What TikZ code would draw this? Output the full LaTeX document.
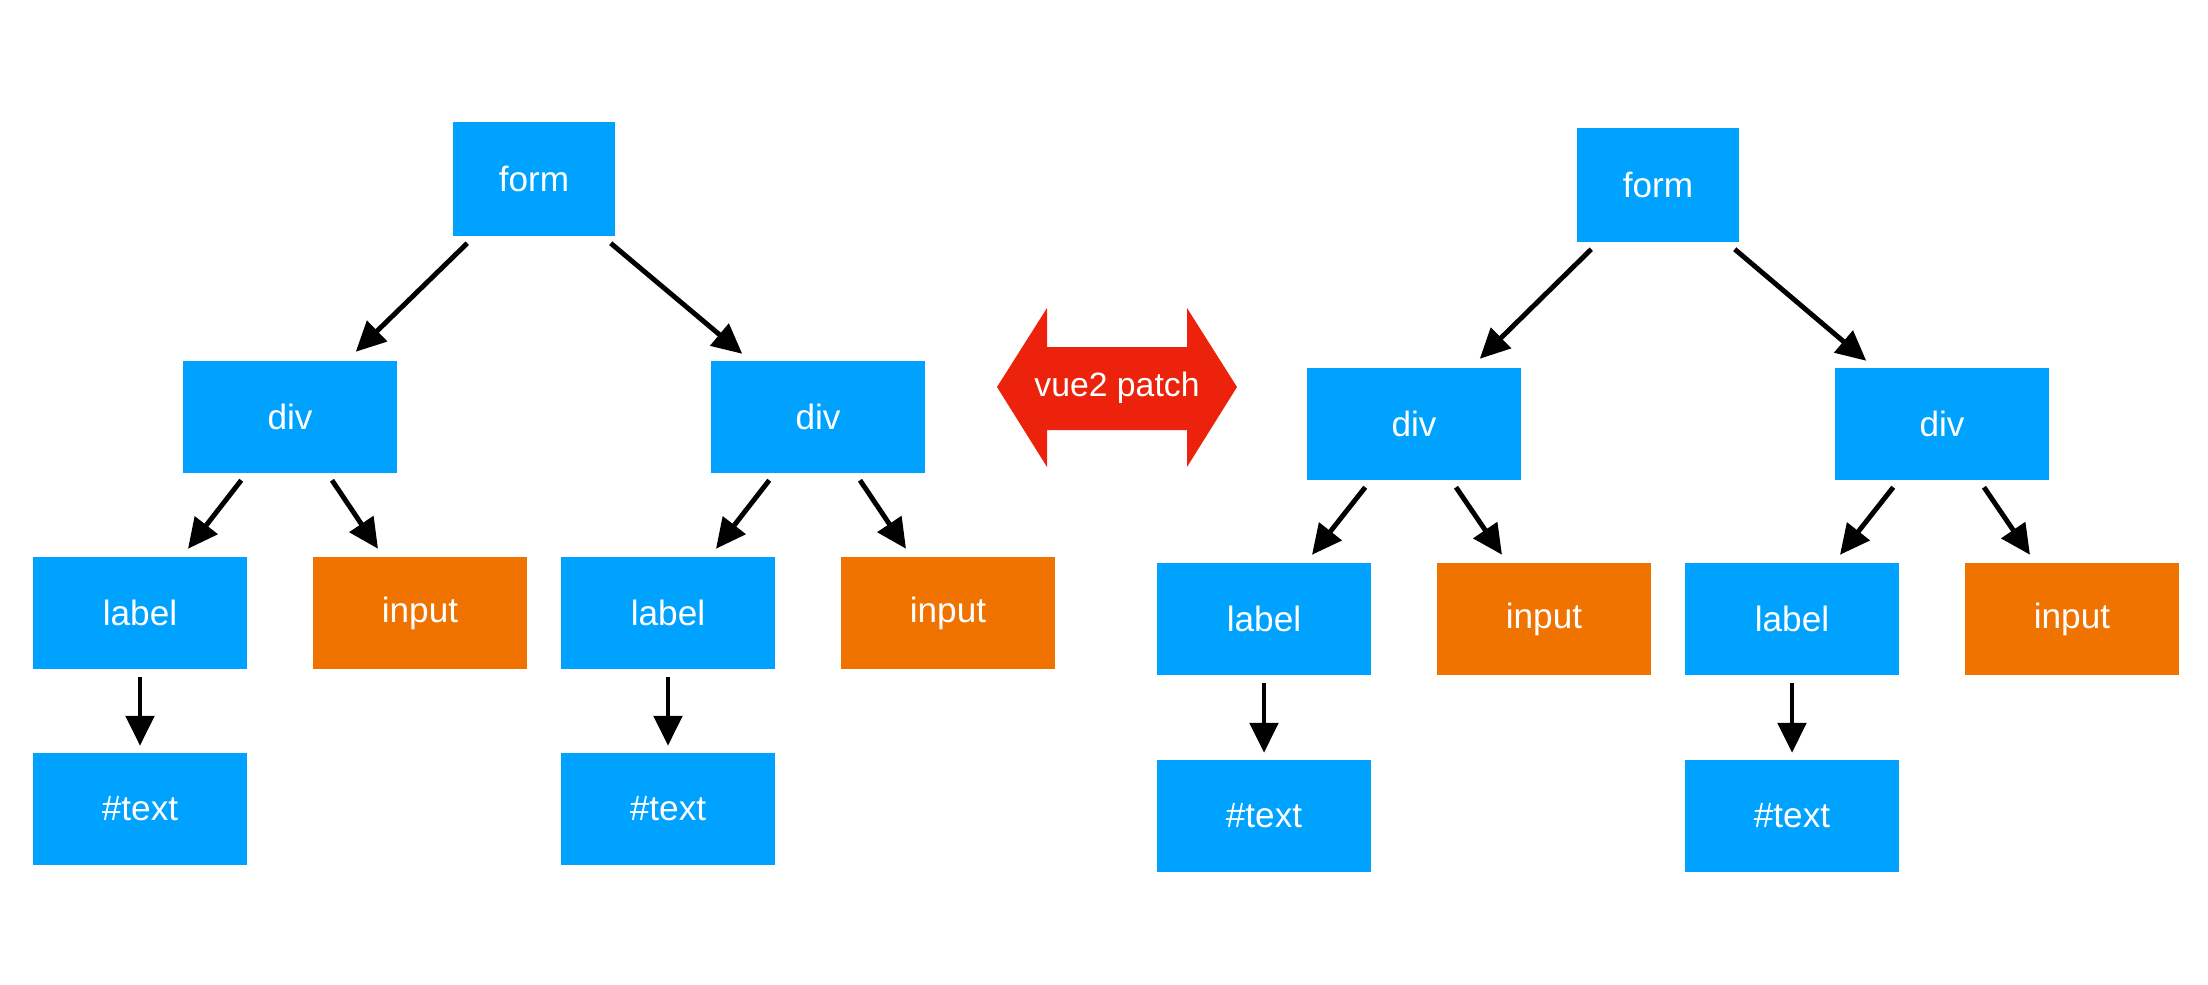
\documentclass[tikz,border=0pt]{standalone}
\usepackage{fontspec}
\setmainfont{Liberation Sans}
\usetikzlibrary{arrows.meta,calc}
\definecolor{nodeblue}{RGB}{0,162,255}
\definecolor{nodeorange}{RGB}{240,115,0}
\definecolor{patchred}{RGB}{237,34,13}
\tikzset{
  box/.style={fill=nodeblue, draw=none, inner sep=0pt, minimum width=2.14cm, minimum height=1.11cm,
    text=white, font=\fontsize{10}{12}\selectfont},
  formbox/.style={box, minimum width=1.62cm, minimum height=1.13cm},
  inbox/.style={box, fill=nodeorange},
  conn/.style={draw=black, line width=1.4pt, -{Triangle[length=8.5pt,width=8pt]}},
  patchlabel/.style={text=white, inner sep=0pt, font=\fontsize{9.6}{12}\selectfont}
}
\begin{document}
\begin{tikzpicture}[x=0.01cm,y=-0.01cm]
\useasboundingbox (0,0) rectangle (2208,984);
% ---------- left tree ----------
\node[formbox] (formA) at (534,179) {form};
\node[box] (divA) at (290,417) {div};
\node[box] (divB) at (818,417) {div};
\node[box] (labelA) at (140,613) {label};
\node[inbox] (inputA) at (420,613) {input};
\node[box] (labelB) at (668,613) {label};
\node[inbox] (inputB) at (948,613) {input};
\node[box] (textA) at (140,809) {\#text};
\node[box] (textB) at (668,809) {\#text};
\draw[conn] ($(formA.south west)+(15,7)$) -- ($(divA.north east)+(-42,-9)$);
\draw[conn] ($(formA.south east)+(-5,7)$) -- ($(divB.north west)+(32,-7)$);
\draw[conn] ($(divA.south west)+(59,7)$) -- ($(labelA.north)+(48,-8)$);
\draw[conn] ($(divA.south)+(42,7)$) -- ($(inputA.north)+(-42,-8)$);
\draw[conn] ($(divB.south west)+(59,7)$) -- ($(labelB.north)+(48,-8)$);
\draw[conn] ($(divB.south)+(42,7)$) -- ($(inputB.north)+(-42,-8)$);
\draw[conn] ($(labelA.south)+(0,8)$) -- ($(textA.north)+(0,-7)$);
\draw[conn] ($(labelB.south)+(0,8)$) -- ($(textB.north)+(0,-7)$);
% ---------- right tree ----------
\node[formbox] (formC) at (1658,185) {form};
\node[box] (divC) at (1414,424) {div};
\node[box] (divD) at (1942,424) {div};
\node[box] (labelC) at (1264,619) {label};
\node[inbox] (inputC) at (1544,619) {input};
\node[box] (labelD) at (1792,619) {label};
\node[inbox] (inputD) at (2072,619) {input};
\node[box] (textC) at (1264,816) {\#text};
\node[box] (textD) at (1792,816) {\#text};
\draw[conn] ($(formC.south west)+(15,7)$) -- ($(divC.north east)+(-42,-9)$);
\draw[conn] ($(formC.south east)+(-5,7)$) -- ($(divD.north west)+(32,-7)$);
\draw[conn] ($(divC.south west)+(59,7)$) -- ($(labelC.north)+(48,-8)$);
\draw[conn] ($(divC.south)+(42,7)$) -- ($(inputC.north)+(-42,-8)$);
\draw[conn] ($(divD.south west)+(59,7)$) -- ($(labelD.north)+(48,-8)$);
\draw[conn] ($(divD.south)+(42,7)$) -- ($(inputD.north)+(-42,-8)$);
\draw[conn] ($(labelC.south)+(0,8)$) -- ($(textC.north)+(0,-7)$);
\draw[conn] ($(labelD.south)+(0,8)$) -- ($(textD.north)+(0,-7)$);
% ---------- double arrow ----------
\fill[patchred] (997,387) -- (1047,308) -- (1047,347) -- (1187,347) -- (1187,308)
  -- (1237,387) -- (1187,467) -- (1187,430) -- (1047,430) -- (1047,467) -- cycle;
\node[patchlabel] (patch) at (1117,388) {vue2 patch};
\end{tikzpicture}
\end{document}
